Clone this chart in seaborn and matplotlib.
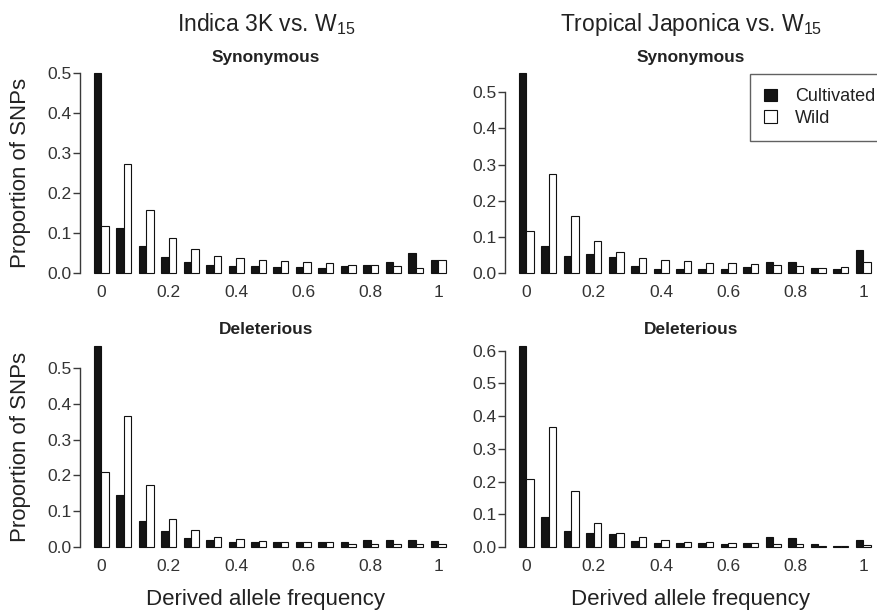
import matplotlib
matplotlib.use("Agg")
import matplotlib.pyplot as plt
from matplotlib.patches import Patch
import numpy as np
import pandas as pd
import seaborn as sns

# Derived allele frequency bins: k/15, k = 0..15
bins = list(range(16))
tick_freqs = [0, 0.2, 0.4, 0.6, 0.8, 1]
tick_labels = ["0", "0.2", "0.4", "0.6", "0.8", "1"]

groups = ["Cultivated", "Wild"]

# Indica 3K vs. W15
indica_syn_cult = [0.500, 0.113, 0.067, 0.040, 0.027, 0.019, 0.018, 0.018,
                   0.015, 0.015, 0.013, 0.017, 0.020, 0.027, 0.050, 0.033]
indica_syn_wild = [0.117, 0.273, 0.159, 0.088, 0.059, 0.043, 0.037, 0.032,
                   0.029, 0.027, 0.025, 0.021, 0.020, 0.017, 0.013, 0.033]
indica_del_cult = [0.562, 0.144, 0.074, 0.044, 0.024, 0.019, 0.015, 0.015,
                   0.013, 0.013, 0.013, 0.013, 0.019, 0.019, 0.020, 0.017]
indica_del_wild = [0.209, 0.367, 0.174, 0.078, 0.047, 0.028, 0.022, 0.018,
                   0.015, 0.015, 0.013, 0.009, 0.009, 0.007, 0.007, 0.007]

# Tropical Japonica vs. W15
tj_syn_cult = [0.552, 0.074, 0.046, 0.052, 0.044, 0.020, 0.012, 0.012,
               0.012, 0.012, 0.017, 0.031, 0.031, 0.014, 0.012, 0.064]
tj_syn_wild = [0.117, 0.273, 0.159, 0.089, 0.059, 0.042, 0.037, 0.033,
               0.029, 0.027, 0.024, 0.021, 0.019, 0.015, 0.016, 0.031]
tj_del_cult = [0.614, 0.092, 0.049, 0.044, 0.039, 0.018, 0.012, 0.012,
               0.012, 0.010, 0.012, 0.029, 0.027, 0.008, 0.004, 0.022]
tj_del_wild = [0.207, 0.367, 0.171, 0.074, 0.043, 0.029, 0.020, 0.016,
               0.014, 0.012, 0.012, 0.008, 0.008, 0.004, 0.004, 0.006]

col_titles = ["Indica 3K vs. W$_\\mathregular{15}$",
              "Tropical Japonica vs. W$_\\mathregular{15}$"]
row_titles = ["Synonymous", "Deleterious"]
panel_data = [[(indica_syn_cult, indica_syn_wild), (tj_syn_cult, tj_syn_wild)],
              [(indica_del_cult, indica_del_wild), (tj_del_cult, tj_del_wild)]]
y_top_ticks = [[0.5, 0.5], [0.5, 0.6]]

sns.set_theme(style="white")
plt.rcParams["font.family"] = ["Liberation Sans", "DejaVu Sans"]
plt.rcParams["mathtext.fontset"] = "custom"
plt.rcParams["mathtext.rm"] = "Liberation Sans"

W, H = 878, 610
fig = plt.figure(figsize=(W / 100, H / 100), dpi=100)

palette = {"Cultivated": "#141414", "Wild": "white"}
axis_color = "#3a3a3a"

col_left = [80, 505]
col_width = 372
row_box = [(65.5, 281), (338, 555)]

for r in range(2):
    for c in range(2):
        top_px, bot_px = row_box[r]
        ax = fig.add_axes([col_left[c] / W, 1 - bot_px / H,
                           col_width / W, (bot_px - top_px) / H])
        cult, wild = panel_data[r][c]
        df = pd.DataFrame({
            "bin": bins * 2,
            "group": ["Cultivated"] * 16 + ["Wild"] * 16,
            "prop": cult + wild,
        })
        sns.barplot(data=df, x="bin", y="prop", hue="group", order=bins,
                    hue_order=groups, palette=palette, width=2 / 3,
                    edgecolor="#111111", linewidth=0.8, saturation=1,
                    legend=False, ax=ax)
        ymax = max(max(cult), max(wild))
        ax.set_ylim(-0.04 * ymax, 1.04 * ymax)
        ax.set_xlim(-0.947, 15.613)

        yt = np.round(np.arange(0, y_top_ticks[r][c] + 1e-9, 0.1), 1)
        ax.set_yticks(yt)
        ax.set_yticklabels([f"{v:.1f}" for v in yt])
        ax.set_xticks([f * 15 for f in tick_freqs])
        ax.set_xticklabels(tick_labels)

        for s in ["top", "right", "bottom"]:
            ax.spines[s].set_visible(False)
        ax.spines["left"].set_bounds(0, yt[-1])
        ax.spines["left"].set_color(axis_color)
        ax.spines["left"].set_linewidth(1.0)
        ax.tick_params(axis="y", length=5, width=1.0, color=axis_color,
                       direction="out", pad=1, labelsize=12.5,
                       labelcolor="#333333", left=True)
        ax.tick_params(axis="x", length=0, pad=3, labelsize=12.5,
                       labelcolor="#333333")

        ax.set_xlabel("")
        ax.set_ylabel("")
        ax.text(0.5, 1.038, row_titles[r], transform=ax.transAxes,
                ha="center", va="center", fontsize=12.4, fontweight="bold",
                color="#222222")

        if c == 0:
            ax.set_ylabel("Proportion of SNPs", fontsize=16, color="#222222")
            ax.yaxis.set_label_coords((21 - 80) / col_width, 0.5)
            ax.yaxis.label.set_va("center")
        if r == 1:
            ax.set_xlabel("Derived allele frequency", fontsize=16,
                          color="#222222")
            ax.xaxis.set_label_coords(0.5, (555 - 599) / (555 - 338))
            ax.xaxis.label.set_va("center")
        if r == 0:
            ax.text(0.5, 1 + (65.5 - 24) / (281 - 65.5), col_titles[c],
                    transform=ax.transAxes, ha="center", va="center",
                    fontsize=16.5, color="#222222")
        if r == 0 and c == 1:
            handles = [Patch(facecolor=palette[g], edgecolor="#111111",
                             linewidth=0.8) for g in groups]
            leg = ax.legend(handles, groups, loc="upper left",
                            bbox_to_anchor=(750 / W, 1 - 74 / H),
                            bbox_transform=fig.transFigure, fontsize=13,
                            frameon=True, fancybox=False, borderpad=0.8,
                            handlelength=0.7, handleheight=0.7,
                            handletextpad=1.0, labelspacing=0.25,
                            borderaxespad=0)
            leg.get_frame().set_edgecolor(axis_color)
            leg.get_frame().set_linewidth(1.0)
            for t in leg.get_texts():
                t.set_color("#222222")

fig.savefig("out.png", dpi=100, facecolor="white")
